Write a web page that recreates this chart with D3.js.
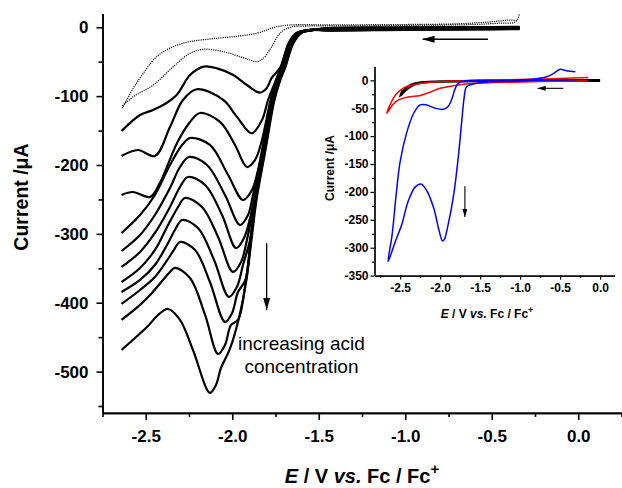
<!DOCTYPE html>
<html><head><meta charset="utf-8">
<script src="https://cdn.jsdelivr.net/npm/d3@7"></script>
<style>
body{margin:0;background:#fff}
svg{display:block}
text{font-family:"Liberation Sans",Arial,sans-serif;white-space:pre}
</style>
</head><body>
<svg id="c" width="622" height="488"></svg>
<script>
// ---------------- DATA ----------------
// main axes ticks
const xMajorMain = [-2.5, -2.0, -1.5, -1.0, -0.5, 0.0];
const xMinorMain = [-2.75, -2.25, -1.75, -1.25, -0.75, -0.25, 0.25];
const yMajorMain = [0, -100, -200, -300, -400, -500];
const yMinorMain = [-50, -150, -250, -350, -450, -550];

// solid CV curves (E / V, I / uA), increasing acid concentration
const curve1  = [[-2.64,-150.6],[-2.533,-127.4],[-2.458,-120.1],[-2.38,-110],[-2.32,-98],[-2.244,-69.3],[-2.165,-57.2],[-2.088,-59.6],[-1.994,-69.3],[-1.916,-83.8],[-1.84,-95],[-1.80,-88],[-1.772,-73.6]];
const curve2  = [[-2.64,-186.9],[-2.545,-178.2],[-2.447,-186.9],[-2.36,-144.8],[-2.285,-105.6],[-2.205,-90],[-2.052,-105.6],[-1.974,-129.8],[-1.888,-153.9],[-1.828,-134.6],[-1.793,-105.6]];
const curve3  = [[-2.64,-243.5],[-2.574,-239.2],[-2.475,-246.4],[-2.418,-226],[-2.319,-168],[-2.244,-137.5],[-2.186,-124.5],[-2.071,-137.5],[-1.984,-170.9],[-1.915,-202.9],[-1.868,-192.7],[-1.828,-163.6]];
const curve4  = [[-2.64,-298.7],[-2.533,-272.6],[-2.447,-243.5],[-2.36,-200],[-2.29,-170.9],[-2.244,-160.8],[-2.129,-170.9],[-2.024,-214.5],[-1.938,-250.8],[-1.886,-236.3],[-1.851,-207.2]];
const curve5  = [[-2.64,-324.9],[-2.533,-301.6],[-2.447,-272.6],[-2.36,-233.4],[-2.302,-202.9],[-2.25,-188.4],[-2.146,-200],[-2.042,-243.5],[-1.955,-287.1],[-1.909,-272.6],[-1.88,-243.5]];
const curve6  = [[-2.64,-348.1],[-2.533,-326.3],[-2.447,-298.7],[-2.36,-261],[-2.302,-232],[-2.256,-217.4],[-2.157,-229],[-2.059,-272.6],[-1.978,-320.5],[-1.932,-306],[-1.897,-277]];
const curve7  = [[-2.64,-369.9],[-2.533,-349.5],[-2.447,-323.4],[-2.371,-287.1],[-2.313,-261],[-2.273,-247.9],[-2.175,-261],[-2.082,-304.5],[-1.996,-355.3],[-1.949,-340.8],[-1.915,-308.9]];
const curve8  = [[-2.64,-384.4],[-2.533,-366.9],[-2.447,-345.2],[-2.377,-316.1],[-2.325,-291.5],[-2.29,-279.8],[-2.198,-291.5],[-2.105,-337.9],[-2.019,-391.6],[-1.973,-377.1],[-1.938,-345.2]];
const curve9  = [[-2.64,-401.8],[-2.533,-381.5],[-2.447,-362.6],[-2.383,-340.8],[-2.337,-323.4],[-2.302,-311.8],[-2.215,-323.4],[-2.129,-369.9],[-2.042,-427.9],[-2.001,-414.8],[-1.967,-384.4]];
const curve10 = [[-2.64,-425],[-2.533,-403.2],[-2.464,-385.8],[-2.4,-366.9],[-2.36,-355.3],[-2.331,-349.5],[-2.244,-364],[-2.157,-417.7],[-2.082,-474.4],[-2.042,-461.3],[-2.007,-432.3]];
const curve11 = [[-2.64,-468.6],[-2.562,-451.2],[-2.487,-433.8],[-2.429,-417.8],[-2.371,-409.1],[-2.302,-425],[-2.227,-468.6],[-2.129,-531],[-2.094,-519.4],[-2.065,-494.7]];
// common rising edge (shared by all solid curves) and plateau near zero
const risingEdge = [[-2.111,-534],[-2.077,-512.2],[-2.03,-468.6],[-1.978,-425],[-1.932,-366.9],[-1.903,-308.9],[-1.874,-250.8],[-1.822,-178.2],[-1.77,-105.6],[-1.736,-76.5],[-1.707,-57.7],[-1.66,-22.8],[-1.614,-8.3],[-1.539,-3.9]];
const plateau = [[-1.45,-3],[-1.0,-2],[-0.6,-1.5],[-0.34,-1]];
// dotted (blank / low acid) curves
const dottedA = [[-2.636,-117.6],[-2.61,-105.6],[-2.572,-88.6],[-2.514,-66.8],[-2.437,-42.7],[-2.341,-28.2],[-2.244,-20.9],[-2.09,-16],[-1.955,-12.6],[-1.859,-8.7],[-1.801,-3.9],[-1.743,0.9],[-1.666,3.3],[-1.4,3.5],[-1.0,4],[-0.7,5],[-0.5,8],[-0.4,10.5],[-0.35,9.5]];
const dottedB = [[-2.636,-114.3],[-2.572,-100.8],[-2.456,-83.8],[-2.341,-57.2],[-2.244,-37.8],[-2.167,-32],[-2.051,-35.4],[-1.955,-42.7],[-1.897,-47.5],[-1.859,-50],[-1.82,-45],[-1.772,-28.2],[-1.724,-8.7],[-1.666,0],[-1.57,1.9],[-1.3,2],[-0.9,3],[-0.6,4],[-0.45,6],[-0.37,7],[-0.35,12],[-0.34,20]];
// annotations (data units)
const arrowScanMain = [[-0.522,-17.4],[-0.9,-17.4]];
const arrowAcidMain = [[-1.801,-313.7],[-1.801,-410.5]];
const annotLines = ["increasing acid", "concentration"];

// inset
const xMajorIn = [-2.5, -2.0, -1.5, -1.0, -0.5, 0.0];
const xMinorIn = [-2.75, -2.25, -1.75, -1.25, -0.75, -0.25];
const yMajorIn = [0, -50, -100, -150, -200, -250, -300, -350];
const yMinorIn = [-25, -75, -125, -175, -225, -275, -325];
const insetBlack1 = [[0.0,1],[-1.0,0.5],[-1.8,-0.5],[-2.2,-2.5],[-2.32,-5],[-2.4,-10],[-2.46,-18],[-2.5,-27]];
const insetBlack2 = [[0.0,-0.5],[-1.0,-1],[-1.8,-2],[-2.15,-3.5],[-2.3,-7],[-2.38,-13],[-2.44,-20],[-2.49,-28]];
const insetBlack3 = [[-2.48,-24],[-2.42,-14],[-2.35,-8],[-2.25,-5],[-2.0,-3],[-1.5,-2],[0.0,-1.5]];
const insetRed = [[-0.15,5],[-0.6,3],[-1.2,1],[-1.8,-1],[-2.1,-3],[-2.3,-7],[-2.45,-13],[-2.55,-25],[-2.62,-42],[-2.665,-59],
  [-2.6,-45],[-2.52,-35],[-2.4,-30],[-2.25,-27],[-2.12,-21],[-2.0,-14],[-1.85,-10],[-1.65,-6],[-1.3,-4],[-1.0,-3],[-0.5,-1.5],[-0.15,-1]];
const insetBlue = [[-0.3,1],[-0.8,0],[-1.3,-2],[-1.5,-4.3],[-1.6,-7.2],[-1.67,-11.5],[-1.7,-32],[-1.73,-74],[-1.77,-134],[-1.83,-205],[-1.9,-259],[-1.95,-286],[-1.97,-288],
  [-2.02,-265],[-2.08,-229],[-2.17,-197],[-2.24,-186],[-2.31,-191],[-2.4,-217],[-2.48,-259],[-2.56,-289],[-2.65,-325],
  [-2.6,-277],[-2.55,-206],[-2.5,-146],[-2.42,-95],[-2.33,-59],[-2.25,-44],[-2.17,-44],[-2.06,-50],[-1.96,-52],[-1.9,-47],[-1.85,-32],[-1.81,-14],[-1.77,-5],[-1.71,-1],
  [-1.2,0],[-0.85,2],[-0.67,6.5],[-0.58,12.5],[-0.5,20],[-0.42,17],[-0.31,15.4]];
const arrowScanIn = [[-0.46,-14.3],[-0.78,-14.3]];
const arrowAcidIn = [[-1.69,-190],[-1.69,-245]];

// ---------------- DRAW ----------------
const svg = d3.select('#c');
const x = d3.scaleLinear().domain([-2.75, 0.25]).range([102.5, 621.5]);
const y = d3.scaleLinear().domain([-560, 20]).range([412.9, 13.5]);
const xi = d3.scaleLinear().domain([-2.82, 0.18]).range([374.5, 614.5]);
const yi = d3.scaleLinear().domain([-350, 25]).range([275.6, 66.4]);

function styleAxis(g, fs, sw) {
  g.select('.domain').attr('stroke', '#000').attr('stroke-width', sw);
  g.selectAll('.tick line').attr('stroke', '#000').attr('stroke-width', sw);
  g.selectAll('text').attr('font-size', fs).attr('font-weight', 'bold')
    .attr('font-family', '"Liberation Sans",Arial,sans-serif').attr('fill', '#000');
}

// arrow marker
const defs = svg.append('defs');
function marker(id, w, h) {
  defs.append('marker').attr('id', id).attr('viewBox', `0 0 ${w} ${h}`)
    .attr('refX', w).attr('refY', h / 2).attr('markerWidth', w).attr('markerHeight', h)
    .attr('markerUnits', 'userSpaceOnUse').attr('orient', 'auto')
    .append('path').attr('d', `M0,0L${w},${h/2}L0,${h}Z`).attr('fill', '#000');
}
marker('ahBig', 12, 7);
marker('ahSmall', 8, 5);

// ----- main axes
const gxMain = svg.append('g').attr('transform', `translate(0,${y(-560)})`);
gxMain.append('g').call(d3.axisBottom(x).tickValues(xMinorMain).tickSize(4).tickSizeOuter(0).tickFormat(''))
  .call(g => styleAxis(g, 17, 1.6));
gxMain.append('g').call(d3.axisBottom(x).tickValues(xMajorMain).tickSize(7).tickSizeOuter(0).tickPadding(10).tickFormat(d => d.toFixed(1)))
  .call(g => styleAxis(g, 17, 1.6));
const gyMain = svg.append('g').attr('transform', `translate(${x(-2.75)},0)`);
gyMain.append('g').call(d3.axisLeft(y).tickValues(yMinorMain).tickSize(4).tickSizeOuter(0).tickFormat(''))
  .call(g => styleAxis(g, 17, 1.6));
gyMain.append('g').call(d3.axisLeft(y).tickValues(yMajorMain).tickSize(6).tickSizeOuter(0).tickPadding(8).tickFormat(d => String(d)))
  .call(g => styleAxis(g, 17, 1.6));

// titles
const xt = svg.append('text').attr('x', 362).attr('y', 483).attr('text-anchor', 'middle')
  .attr('font-size', 20).attr('font-weight', 'bold');
xt.append('tspan').attr('font-style', 'italic').text('E');
xt.append('tspan').text(' / V ');
xt.append('tspan').attr('font-style', 'italic').text('vs.');
xt.append('tspan').text(' Fc / Fc');
xt.append('tspan').attr('dy', -9).attr('font-size', 15).text('+');
svg.append('text').attr('transform', 'translate(28,197) rotate(-90)').attr('text-anchor', 'middle')
  .attr('font-size', 19.5).attr('font-weight', 'bold').text('Current /\u03BCA');

// ----- main curves
const line = d3.line().x(d => x(d[0])).y(d => y(d[1])).curve(d3.curveCatmullRom.alpha(0.5));
const solid = [curve1, curve2, curve3, curve4, curve5, curve6, curve7, curve8, curve9, curve10, curve11];
const gCurves = svg.append('g');
solid.forEach((c, k) => {
  const off = (k - 5) * 0.0028;
  const last = c[c.length - 1];
  const pts = c.slice();
  risingEdge.filter(p => p[1] > last[1] + 6).forEach(p => pts.push([p[0] + off, p[1]]));
  plateau.forEach(p => pts.push([p[0], p[1] + (k - 5) * 0.35]));
  gCurves.append('path').attr('d', line(pts)).attr('fill', 'none')
    .attr('stroke', '#000').attr('stroke-width', 2.2).attr('stroke-linejoin', 'round');
});
[dottedA, dottedB].forEach(c => {
  gCurves.append('path').attr('d', line(c)).attr('fill', 'none').attr('stroke', '#000')
    .attr('stroke-width', 1.25).attr('stroke-dasharray', '1.1,1.1');
});

// annotations main
svg.append('line').attr('x1', x(arrowScanMain[0][0])).attr('y1', y(arrowScanMain[0][1]))
  .attr('x2', x(arrowScanMain[1][0])).attr('y2', y(arrowScanMain[1][1]))
  .attr('stroke', '#000').attr('stroke-width', 1.5).attr('marker-end', 'url(#ahBig)');
svg.append('line').attr('x1', x(arrowAcidMain[0][0])).attr('y1', y(arrowAcidMain[0][1]))
  .attr('x2', x(arrowAcidMain[1][0])).attr('y2', y(arrowAcidMain[1][1]))
  .attr('stroke', '#000').attr('stroke-width', 1.3).attr('marker-end', 'url(#ahBig)');
annotLines.forEach((t, i) => {
  svg.append('text').attr('x', x(-1.6)).attr('y', y(-468 - i * 33.4)).attr('text-anchor', 'middle')
    .attr('font-size', 19).text(t);
});

// ----- inset
const gxIn = svg.append('g').attr('transform', `translate(0,${yi(-350)})`);
gxIn.append('g').call(d3.axisBottom(xi).tickValues(xMinorIn).tickSize(2.5).tickSizeOuter(0).tickFormat(''))
  .call(g => styleAxis(g, 12, 1.2));
gxIn.append('g').call(d3.axisBottom(xi).tickValues(xMajorIn).tickSize(4).tickSizeOuter(0).tickPadding(4).tickFormat(d => d.toFixed(1)))
  .call(g => styleAxis(g, 12, 1.2));
const gyIn = svg.append('g').attr('transform', `translate(${xi(-2.82)},0)`);
gyIn.append('g').call(d3.axisLeft(yi).tickValues(yMinorIn).tickSize(2.5).tickSizeOuter(0).tickFormat(''))
  .call(g => styleAxis(g, 12, 1.2));
gyIn.append('g').call(d3.axisLeft(yi).tickValues(yMajorIn).tickSize(4).tickSizeOuter(0).tickPadding(2).tickFormat(d => String(d)))
  .call(g => styleAxis(g, 12, 1.2));

const xti = svg.append('text').attr('x', 487).attr('y', 318).attr('text-anchor', 'middle')
  .attr('font-size', 12).attr('font-weight', 'bold');
xti.append('tspan').attr('font-style', 'italic').text('E');
xti.append('tspan').text(' / V ');
xti.append('tspan').attr('font-style', 'italic').text('vs.');
xti.append('tspan').text(' Fc / Fc');
xti.append('tspan').attr('dy', -5).attr('font-size', 9).text('+');
svg.append('text').attr('transform', 'translate(334,168) rotate(-90)').attr('text-anchor', 'middle')
  .attr('font-size', 12).attr('font-weight', 'bold').text('Current /\u03BCA');

const lineIn = d3.line().x(d => xi(d[0])).y(d => yi(d[1])).curve(d3.curveCatmullRom.alpha(0.5));
[insetBlack1, insetBlack2, insetBlack3].forEach(c => {
  svg.append('path').attr('d', lineIn(c)).attr('fill', 'none').attr('stroke', '#000').attr('stroke-width', 1.4);
});
svg.append('line').attr('x1', xi(-2.47)).attr('y1', yi(-21)).attr('x2', xi(-2.51)).attr('y2', yi(-30))
  .attr('stroke', '#000').attr('stroke-width', 1.2).attr('marker-end', 'url(#ahSmall)');
svg.append('path').attr('d', lineIn(insetRed)).attr('fill', 'none').attr('stroke', '#ff0000').attr('stroke-width', 1.5);
svg.append('path').attr('d', lineIn(insetBlue)).attr('fill', 'none').attr('stroke', '#0000ff').attr('stroke-width', 1.5);

svg.append('line').attr('x1', xi(arrowScanIn[0][0])).attr('y1', yi(arrowScanIn[0][1]))
  .attr('x2', xi(arrowScanIn[1][0])).attr('y2', yi(arrowScanIn[1][1]))
  .attr('stroke', '#000').attr('stroke-width', 1.1).attr('marker-end', 'url(#ahSmall)');
svg.append('line').attr('x1', xi(arrowAcidIn[0][0])).attr('y1', yi(arrowAcidIn[0][1]))
  .attr('x2', xi(arrowAcidIn[1][0])).attr('y2', yi(arrowAcidIn[1][1]))
  .attr('stroke', '#000').attr('stroke-width', 1.1).attr('marker-end', 'url(#ahSmall)');
</script>
</body></html>
